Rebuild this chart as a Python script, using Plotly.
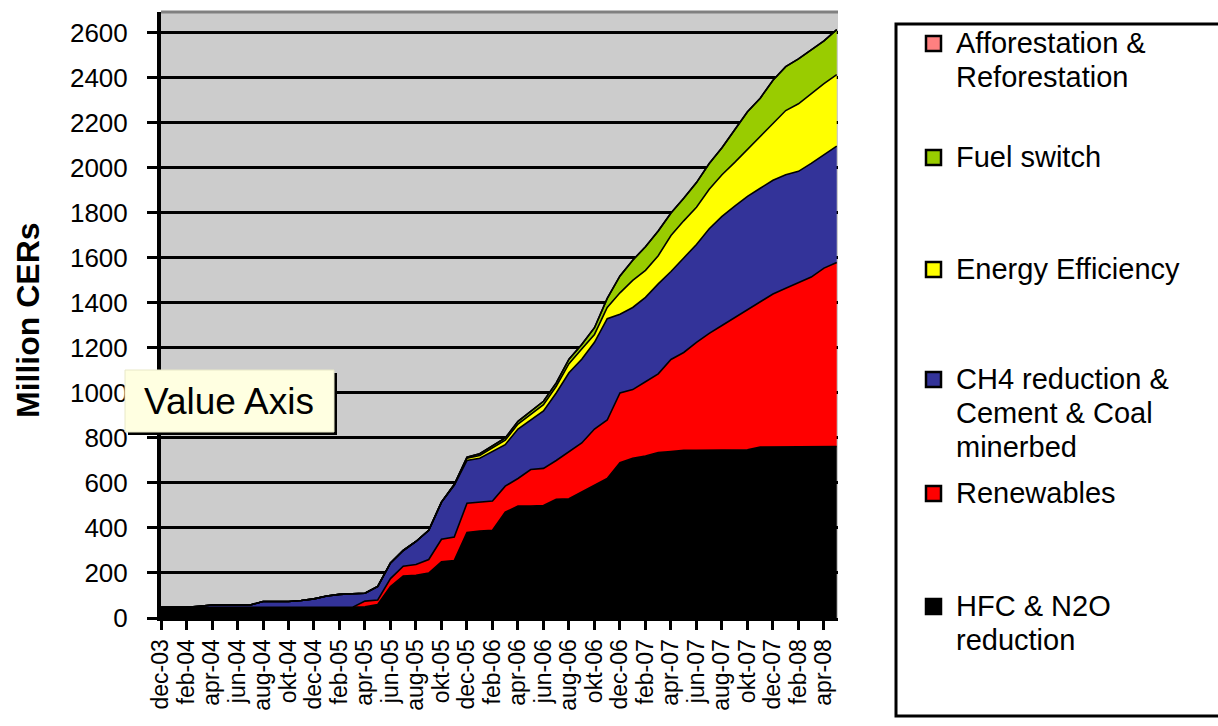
import plotly.graph_objects as go

# ---------------- data ----------------
months = ["dec-03", "jan-04", "feb-04", "mrt-04", "apr-04", "mei-04", "jun-04", "jul-04",
          "aug-04", "sep-04", "okt-04", "nov-04", "dec-04", "jan-05", "feb-05", "mrt-05",
          "apr-05", "mei-05", "jun-05", "jul-05", "aug-05", "sep-05", "okt-05", "nov-05",
          "dec-05", "jan-06", "feb-06", "mrt-06", "apr-06", "mei-06", "jun-06", "jul-06",
          "aug-06", "sep-06", "okt-06", "nov-06", "dec-06", "jan-07", "feb-07", "mrt-07",
          "apr-07", "mei-07", "jun-07", "jul-07", "aug-07", "sep-07", "okt-07", "nov-07",
          "dec-07", "jan-08", "feb-08", "mrt-08", "apr-08", "mei-08"]

tick_labels = ["dec-03", "feb-04", "apr-04", "jun-04", "aug-04", "okt-04", "dec-04",
               "feb-05", "apr-05", "jun-05", "aug-05", "okt-05", "dec-05", "feb-06",
               "apr-06", "jun-06", "aug-06", "okt-06", "dec-06", "feb-07", "apr-07",
               "jun-07", "aug-07", "okt-07", "dec-07", "feb-08", "apr-08"]

hfc_n2o = [47, 47, 47, 47, 47, 47, 47, 47, 47, 47, 47, 47, 47, 47, 47, 47,
           50, 60, 140, 186, 190, 200, 250, 255, 380, 386,
           390, 470, 497, 497, 500, 527, 530, 560, 590, 620,
           690, 710, 720, 735, 740, 745, 745, 745, 745, 745,
           748, 760, 760, 760, 760, 760, 762, 762]

renewables = [0, 0, 0, 0, 0, 0, 0, 0, 0, 0, 0, 0, 0, 0, 0, 0,
              25, 20, 35, 44, 48, 60, 100, 105, 130, 129,
              130, 116, 123, 163, 165, 173, 210, 218, 250, 260,
              310, 305, 330, 350, 409, 435, 480, 520, 555, 590,
              622, 645, 680, 705, 730, 755, 793, 818]

ch4_cement_coal = [0, 0, 0, 5, 11, 11, 11, 11, 26, 26, 26, 31, 38, 51, 58, 61,
                   35, 60, 70, 70, 102, 130, 165, 230, 190, 195,
                   220, 184, 220, 220, 255, 300, 350, 372, 385, 450,
                   350, 365, 375, 400, 391, 420, 435, 465, 485, 495,
                   504, 505, 505, 505, 495, 505, 505, 517]

energy_efficiency = [0, 0, 0, 0, 0, 0, 0, 0, 0, 0, 0, 0, 0, 0, 0, 0,
                     0, 0, 0, 0, 0, 0, 0, 3, 10, 12,
                     15, 20, 22, 25, 28, 30, 40, 45, 35, 50,
                     95, 120, 120, 125, 160, 165, 165, 175, 185, 195,
                     208, 230, 255, 285, 300, 310, 315, 318]

fuel_switch = [0, 0, 0, 0, 0, 0, 0, 0, 0, 0, 0, 0, 0, 0, 0, 0,
               0, 0, 0, 0, 0, 0, 0, 0, 5, 8,
               10, 10, 12, 12, 15, 15, 20, 20, 30, 40,
               75, 90, 105, 110, 100, 100, 110, 115, 120, 145,
               168, 170, 190, 195, 200, 195, 190, 200]

afforestation = [0] * 54

series = [
    ("HFC & N2O reduction", hfc_n2o, "#000000"),
    ("Renewables", renewables, "#FF0000"),
    ("CH4 reduction & Cement & Coal minerbed", ch4_cement_coal, "#333399"),
    ("Energy Efficiency", energy_efficiency, "#FFFF00"),
    ("Fuel switch", fuel_switch, "#99CC00"),
    ("Afforestation & Reforestation", afforestation, "#FF8080"),
]

legend_entries = [
    (["Afforestation &", "Reforestation"], "#FF8080"),
    (["Fuel switch"], "#99CC00"),
    (["Energy Efficiency"], "#FFFF00"),
    (["CH4 reduction &", "Cement & Coal", "minerbed"], "#333399"),
    (["Renewables"], "#FF0000"),
    (["HFC & N2O", "reduction"], "#000000"),
]

# ---------------- layout geometry (pixels) ----------------
W, H = 1218, 726
PX0, PX1 = 161, 838      # plot area left / right
PY0, PY1 = 12, 618       # plot area top / bottom


def fx(px):
    return (px - PX0) / (PX1 - PX0)


def fy(py):
    return (PY1 - py) / (PY1 - PY0)


FONT = "Liberation Sans, Arial, sans-serif"

fig = go.Figure()
for name, vals, col in series:
    fig.add_trace(go.Scatter(
        x=months, y=vals, name=name, mode="lines",
        stackgroup="one", fillcolor=col,
        line=dict(color="#000000", width=1.6),
        showlegend=False,
    ))

shapes = []
annotations = []

# top border of plot area
shapes.append(dict(type="line", xref="paper", yref="paper", x0=0, x1=1, y0=1, y1=1,
                   line=dict(color="#808080", width=3), layer="above"))

# legend box
shapes.append(dict(type="rect", xref="paper", yref="paper",
                   x0=fx(896), x1=fx(1225), y0=fy(716), y1=fy(24),
                   line=dict(color="#000000", width=3), fillcolor="rgba(0,0,0,0)",
                   layer="above"))

line_gap = 34
first_lines = [43, 157, 269, 379, 493, 606]
for (lines, col), ly in zip(legend_entries, first_lines):
    shapes.append(dict(type="rect", xref="paper", yref="paper",
                       x0=fx(926), x1=fx(941), y0=fy(ly + 8), y1=fy(ly - 7),
                       line=dict(color="#000000", width=2.5), fillcolor=col, layer="above"))
    for i, t in enumerate(lines):
        annotations.append(dict(xref="paper", yref="paper", x=fx(954), y=fy(ly + i * line_gap),
                                xanchor="left", yanchor="middle", text=t, showarrow=False,
                                font=dict(family=FONT, size=29, color="#000000")))

# "Value Axis" tooltip box
shapes.append(dict(type="rect", xref="paper", yref="paper",
                   x0=fx(128), x1=fx(337), y0=fy(435), y1=fy(373),
                   line=dict(width=0), fillcolor="#000000", layer="above"))
shapes.append(dict(type="rect", xref="paper", yref="paper",
                   x0=fx(125), x1=fx(334), y0=fy(432), y1=fy(370),
                   line=dict(color="#E8E8C8", width=1), fillcolor="#FFFFE1", layer="above"))
annotations.append(dict(xref="paper", yref="paper", x=fx(229), y=fy(401),
                        xanchor="center", yanchor="middle", text="Value Axis", showarrow=False,
                        font=dict(family=FONT, size=37, color="#000000")))

# y-axis title
annotations.append(dict(xref="paper", yref="paper", x=fx(28), y=fy(320),
                        xanchor="center", yanchor="middle", text="<b>Million CERs</b>",
                        textangle=-90, showarrow=False,
                        font=dict(family=FONT, size=32, color="#000000")))

fig.update_layout(
    width=W, height=H,
    margin=dict(l=PX0, r=W - PX1, t=PY0, b=H - PY1, autoexpand=False),
    paper_bgcolor="#FFFFFF",
    plot_bgcolor="#CCCCCC",
    font=dict(family=FONT, color="#000000"),
    showlegend=False,
    shapes=shapes,
    annotations=annotations,
    xaxis=dict(
        type="category", categoryorder="array", categoryarray=months,
        range=[0, 53.1], automargin=False,
        tickmode="array", tickvals=tick_labels, ticktext=tick_labels,
        tickangle=-90, tickfont=dict(family=FONT, size=23, color="#000000"),
        ticks="outside", ticklen=9, tickwidth=3, tickcolor="#000000",
        showline=True, linecolor="#000000", linewidth=3,
        showgrid=False, zeroline=False, ticklabelstandoff=0,
    ),
    yaxis=dict(
        range=[0, 2693], automargin=False,
        tickmode="array", tickvals=list(range(0, 2601, 200)),
        tickfont=dict(family=FONT, size=26, color="#000000"),
        ticks="outside", ticklen=10, tickwidth=3, tickcolor="#000000",
        showline=True, linecolor="#000000", linewidth=4,
        showgrid=True, gridcolor="#000000", gridwidth=3,
        zeroline=False, ticklabelstandoff=14,
    ),
)

fig.write_html("out.html")
